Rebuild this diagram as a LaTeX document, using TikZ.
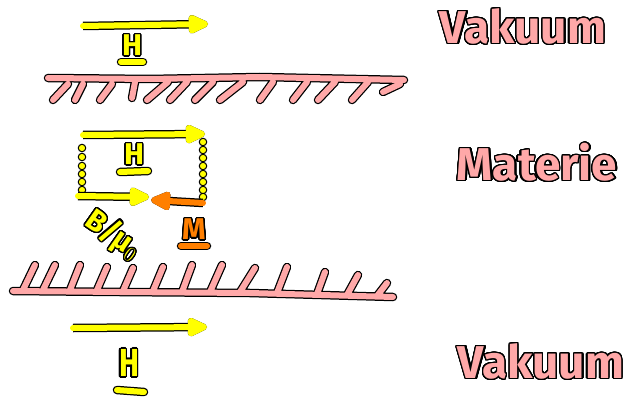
\documentclass[tikz,border=0pt]{standalone}
\usepackage{fontspec}
\setsansfont{Fira Sans}
\usepackage[copies]{contour}
\usetikzlibrary{arrows.meta}
\definecolor{hy}{HTML}{FFFF00}
\definecolor{pk}{HTML}{FFA8A8}
\definecolor{og}{HTML}{FF7F00}
\contourlength{1.3pt}
\contournumber{32}
\newcommand\topwallpath{(48,78) -- (150,79) -- (260,77) -- (404,80)
  (53,100) -- (68,84) (75,100) -- (83,84) (100,100) -- (112,84) (132,98) -- (135,82)
  (147,100) -- (168,82) (170,100) -- (187,82) (195,100) -- (213,82) (220,100) -- (243,82)
  (260,100) -- (273,82) (293,100) -- (307,82) (318,100) -- (335,82) (352,100) -- (368,82)
  (383,92) -- (400,84)}
\newcommand\botwallpath{(13,291) -- (120,292) -- (250,293) -- (393,297)
  (23,290) -- (35,265) (43,290) -- (55,265) (70,290) -- (80,265) (97,290) -- (107,267)
  (123,291) -- (133,268) (153,291) -- (163,267) (182,292) -- (192,265) (210,292) -- (222,265)
  (240,292) -- (255,268) (277,293) -- (287,267) (317,294) -- (325,272) (347,295) -- (358,275)
  (377,296) -- (387,283)}
\begin{document}
\begin{tikzpicture}[x=1pt,y=-1pt,
  outl/.style={draw=black, line width=8.5pt, line cap=round, line join=round},
  stroke/.style={draw=#1, line width=6pt, line cap=round, line join=round},
  vec/.style={stroke=#1, -{Triangle[length=24pt,width=20pt,round]},
    preaction={draw=black, line width=8.5pt, -{Triangle[length=24pt,width=20pt,round]}}},
  bar/.style={stroke=#1, preaction={outl}},
  lbl/.style={text=#1, font=\sffamily\bfseries\fontsize{30}{30}\selectfont, inner sep=0pt},
  word/.style={text=pk, font=\sffamily\bfseries\fontsize{46}{46}\selectfont, inner sep=0pt},
  dot/.style={circle, fill=hy, draw=black, line width=1pt, minimum size=7.5pt, inner sep=0pt}
]
\useasboundingbox[fill=white] (0,0) rectangle (639,401);

% walls
\draw[outl] \topwallpath;
\draw[stroke=pk] \topwallpath;
\draw[outl] \botwallpath;
\draw[stroke=pk] \botwallpath;

% vacuum top
\coordinate (a1s) at (83,26);
\coordinate (a1e) at (208,24);
\draw[vec=hy] (a1s) -- (a1e);
\node[lbl=hy] (h1) at (132,46) {\contour{black}{H}};
\draw[bar=hy] (121,62) -- (143,62);

% matter
\foreach \y [count=\i] in {148,157,166,174,182,190} \node[dot] (l\i) at (82,\y) {};
\foreach \y [count=\i] in {142,150,158,166,174,182,190,197} \node[dot] (r\i) at (203,\y) {};
\coordinate (a2s) at (83,135);
\coordinate (a2e) at (205,134);
\draw[vec=hy] (a2s) -- (a2e);
\node[lbl=hy] (h2) at (134,155) {\contour{black}{H}};
\draw[bar=hy] (120,172) -- (148,171);

\coordinate (a3s) at (78,196);
\coordinate (a3e) at (149,197);
\draw[vec=hy] (a3s) -- (a3e);
\coordinate (a4s) at (203,203);
\coordinate (a4e) at (151,200);
\draw[vec=og] (a4s) -- (a4e);

\node[lbl=hy, rotate=-35] (bm) at (113,235) {\contour{black}{B/μ$_0$}};
\node[lbl=og] (m) at (194,230) {\contour{black}{M}};
\draw[bar=og] (181,246) -- (207,246);

% vacuum bottom
\coordinate (a5s) at (73,328);
\coordinate (a5e) at (207,327);
\draw[vec=hy] (a5s) -- (a5e);
\node[lbl=hy, yscale=1.3] (h3) at (129,364) {\contour{black}{H}};
\draw[bar=hy] (117,390) -- (144,392);

% labels
\node[word] (v1) at (523,27) {\contour{black}{Vakuum}};
\node[word] (mt) at (537,163) {\contour{black}{Materie}};
\node[word] (v2) at (541,362) {\contour{black}{Vakuum}};
\end{tikzpicture}
\end{document}
